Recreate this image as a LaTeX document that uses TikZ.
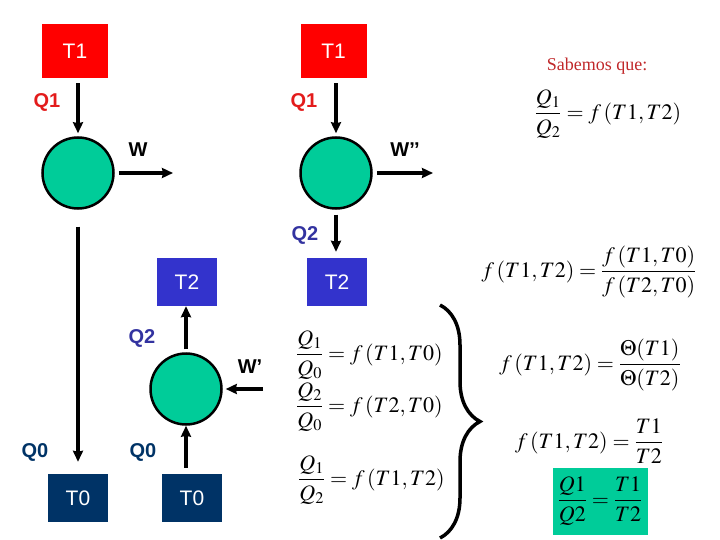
\documentclass[tikz,border=0pt]{standalone}
\usepackage{mathptmx}
\usepackage[no-math]{fontspec}
\setmainfont{Liberation Sans}
\newfontfamily\timesfont{Liberation Serif}
\usetikzlibrary{arrows.meta,decorations.pathreplacing}

\definecolor{rojo}{HTML}{FF0000}
\definecolor{azul}{HTML}{3333CC}
\definecolor{marino}{HTML}{003366}
\definecolor{verde}{HTML}{00CC99}
\definecolor{qrojo}{HTML}{E31B1B}
\definecolor{qazul}{HTML}{3333A0}
\definecolor{rojooscuro}{HTML}{C0282A}

\begin{document}
\begin{tikzpicture}[
        x=1pt, y=-1pt,
        % focos de temperatura
        foco/.style={fill=#1, text=white, minimum width=60pt, minimum height=48pt,
            inner sep=0pt, font=\fontsize{21}{24}\selectfont},
        % maquinas termicas
        maquina/.style={circle, draw, line width=2.5pt, fill=verde,
            minimum size=71pt, inner sep=0pt},
        flecha/.style={-{Stealth[length=11pt,width=10pt,inset=1pt]}, line width=3.5pt},
        etq/.style={font=\bfseries\fontsize{20}{24}\selectfont},
        ecu/.style={font=\fontsize{22}{26}\selectfont, inner sep=0pt},
    ]
    \useasboundingbox (0,0) rectangle (720,540);

    % ---- focos ----
    \node[foco=rojo, minimum width=66pt, minimum height=54pt] (T1a) at (75,51) {T1};
    \node[foco=rojo, minimum width=66pt, minimum height=54pt] (T1b) at (333.5,51) {T1};
    \node[foco=azul] (T2a) at (187,282) {T2};
    \node[foco=azul] (T2b) at (337,282) {T2};
    \node[foco=marino] (T0a) at (78,498) {T0};
    \node[foco=marino] (T0b) at (192,498) {T0};

    % ---- maquinas ----
    \node[maquina] (M1) at (78,173) {};
    \node[maquina] (M2) at (336,173) {};
    \node[maquina] (M3) at (186,389) {};

    % extremos libres de los trabajos
    \coordinate (W1) at (173,173);
    \coordinate (W2) at (433,173);
    \coordinate (W3) at (263,389);

    % ---- flujos de calor y trabajo ----
    \draw[flecha, shorten <=5pt, shorten >=3pt] (T1a.south -| M1) -- (M1);
    \draw[flecha, shorten <=5pt, shorten >=3pt] (T1b.south -| M2) -- (M2);
    \draw[flecha, shorten <=4pt] (M1) -- (W1);
    \draw[flecha, shorten <=4pt] (M2) -- (W2);
    \draw[flecha, shorten <=5pt, shorten >=6pt] (M2) -- (T2b.north -| M2);
    \draw[flecha, shorten <=17pt, shorten >=12pt] (M1) -- (T0a);
    \draw[flecha, shorten <=3pt] (M3) -- (T2a.south -| M3);
    \draw[flecha, shorten <=6pt] (T0b.north -| M3) -- (M3);
    \draw[flecha, shorten >=3pt] (W3) -- (M3);

    % etiquetas
    \node[etq, text=qrojo] (q1a) at (47,102) {Q1};
    \node[etq, text=qrojo] (q1b) at (304,102) {Q1};
    \node[etq] (wa) at (138,150) {W};
    \node[etq] (wb) at (405,150) {W’’};
    \node[etq] (wc) at (250,367) {W’};
    \node[etq, text=qazul] (q2b) at (305,235) {Q2};
    \node[etq, text=qazul] (q2a) at (142,338) {Q2};
    \node[etq, text=marino] (q0a) at (35,452) {Q0};
    \node[etq, text=marino] (q0b) at (143,452) {Q0};

    % ---- ecuaciones ----
    \node[text=rojooscuro, font=\timesfont\fontsize{18}{20}\selectfont] (sab) at (597,66) {Sabemos que:};
    \node[ecu] (e0) at (608,114) {$\displaystyle\frac{Q_1}{Q_2}=f\,(T1,T2)$};

    \node[ecu, anchor=west] (e1) at (296,355) {$\displaystyle\frac{Q_1}{Q_0}=f\,(T1,T0)$};
    \node[ecu, anchor=west] (e2) at (296,407) {$\displaystyle\frac{Q_2}{Q_0}=f\,(T2,T0)$};
    \node[ecu, anchor=west] (e3) at (298,480) {$\displaystyle\frac{Q_1}{Q_2}=f\,(T1,T2)$};

    \draw[decorate, decoration={brace, amplitude=40pt}, line width=3.5pt] (440,305) -- (440,538);

    \node[ecu] (e4) at (589,272) {$\displaystyle f\,(T1,T2)=\frac{f\,(T1,T0)}{f\,(T2,T0)}$};
    \node[ecu] (e5) at (590,365) {$\displaystyle f\,(T1,T2)=\frac{\Theta(T1)}{\Theta(T2)}$};
    \node[ecu] (e6) at (589,441) {$\displaystyle f\,(T1,T2)=\frac{T1}{T2}$};
    \node[ecu, fill=verde, minimum width=95pt, minimum height=67pt] (res) at (600,501)
        {$\displaystyle\frac{Q1}{Q2}=\frac{T1}{T2}$};

\end{tikzpicture}
\end{document}
